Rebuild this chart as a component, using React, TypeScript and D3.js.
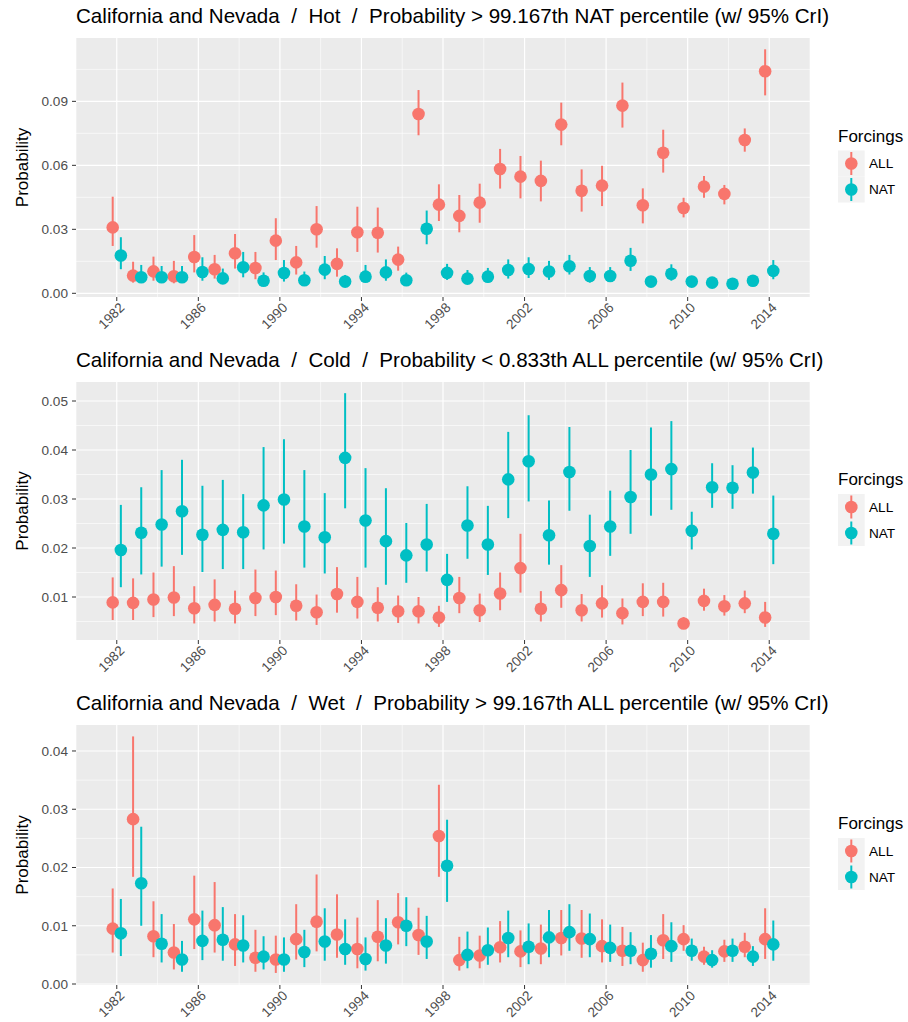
import React from 'react';
import * as d3 from 'd3';

// ---------- data ----------
const years = [1982, 1983, 1984, 1985, 1986, 1987, 1988, 1989, 1990, 1991, 1992, 1993, 1994, 1995, 1996, 1997, 1998, 1999, 2000, 2001, 2002, 2003, 2004, 2005, 2006, 2007, 2008, 2009, 2010, 2011, 2012, 2013, 2014];
const forcings = ['ALL', 'NAT'];
const xTickYears = [1982, 1986, 1990, 1994, 1998, 2002, 2006, 2010, 2014];
const xMinorYears = [1980, 1984, 1988, 1992, 1996, 2000, 2004, 2008, 2012, 2016];

// Hot
const hotAllMid = [0.0309, 0.0083, 0.0103, 0.0080, 0.0170, 0.0113, 0.0188, 0.0119, 0.0247, 0.0145, 0.0300, 0.0138, 0.0286, 0.0284, 0.0158, 0.0841, 0.0416, 0.0363, 0.0425, 0.0583, 0.0547, 0.0527, 0.0791, 0.0481, 0.0505, 0.0880, 0.0413, 0.0659, 0.0400, 0.0500, 0.0466, 0.0719, 0.1041];
const hotAllLo = [0.0222, 0.0050, 0.0059, 0.0047, 0.0098, 0.0069, 0.0116, 0.0066, 0.0156, 0.0088, 0.0214, 0.0078, 0.0194, 0.0191, 0.0106, 0.0741, 0.0339, 0.0286, 0.0331, 0.0491, 0.0445, 0.0431, 0.0694, 0.0383, 0.0409, 0.0777, 0.0328, 0.0566, 0.0356, 0.0448, 0.0417, 0.0664, 0.0928];
const hotAllHi = [0.0453, 0.0148, 0.0172, 0.0152, 0.0273, 0.0180, 0.0278, 0.0194, 0.0352, 0.0222, 0.0409, 0.0211, 0.0406, 0.0402, 0.0219, 0.0953, 0.0511, 0.0461, 0.0514, 0.0677, 0.0644, 0.0622, 0.0894, 0.0581, 0.0598, 0.0988, 0.0492, 0.0767, 0.0448, 0.0550, 0.0508, 0.0773, 0.1144];
const hotNatMid = [0.0177, 0.0075, 0.0075, 0.0075, 0.0100, 0.0070, 0.0122, 0.0059, 0.0095, 0.0061, 0.0111, 0.0055, 0.0078, 0.0098, 0.0061, 0.0303, 0.0096, 0.0069, 0.0078, 0.0109, 0.0114, 0.0102, 0.0127, 0.0081, 0.0081, 0.0153, 0.0055, 0.0092, 0.0055, 0.0050, 0.0045, 0.0059, 0.0105];
const hotNatLo = [0.0113, 0.0052, 0.0050, 0.0050, 0.0059, 0.0050, 0.0075, 0.0041, 0.0055, 0.0039, 0.0066, 0.0034, 0.0053, 0.0059, 0.0041, 0.0230, 0.0063, 0.0047, 0.0050, 0.0069, 0.0072, 0.0063, 0.0088, 0.0050, 0.0053, 0.0105, 0.0041, 0.0059, 0.0039, 0.0034, 0.0031, 0.0042, 0.0066];
const hotNatHi = [0.0263, 0.0133, 0.0128, 0.0128, 0.0169, 0.0116, 0.0194, 0.0098, 0.0156, 0.0102, 0.0175, 0.0086, 0.0133, 0.0159, 0.0097, 0.0388, 0.0138, 0.0109, 0.0119, 0.0159, 0.0169, 0.0152, 0.0180, 0.0123, 0.0123, 0.0213, 0.0075, 0.0136, 0.0070, 0.0066, 0.0059, 0.0075, 0.0156];

// Cold
const coldAllMid = [0.0089, 0.0088, 0.0095, 0.0099, 0.0077, 0.0084, 0.0076, 0.0098, 0.0100, 0.0082, 0.0069, 0.0106, 0.0090, 0.0078, 0.0071, 0.0071, 0.0058, 0.0098, 0.0073, 0.0107, 0.0159, 0.0076, 0.0114, 0.0073, 0.0087, 0.0067, 0.0090, 0.0090, 0.0046, 0.0092, 0.0081, 0.0087, 0.0058];
const coldAllLo = [0.0053, 0.0053, 0.0059, 0.0061, 0.0046, 0.0050, 0.0046, 0.0061, 0.0063, 0.0052, 0.0043, 0.0068, 0.0056, 0.0050, 0.0047, 0.0046, 0.0039, 0.0067, 0.0049, 0.0073, 0.0109, 0.0050, 0.0078, 0.0050, 0.0058, 0.0044, 0.0061, 0.0060, 0.0036, 0.0072, 0.0062, 0.0067, 0.0039];
const coldAllHi = [0.0140, 0.0138, 0.0150, 0.0163, 0.0122, 0.0136, 0.0113, 0.0156, 0.0154, 0.0126, 0.0105, 0.0161, 0.0141, 0.0120, 0.0103, 0.0100, 0.0082, 0.0141, 0.0107, 0.0150, 0.0229, 0.0112, 0.0165, 0.0106, 0.0124, 0.0097, 0.0128, 0.0129, 0.0059, 0.0117, 0.0104, 0.0113, 0.0090];
const coldNatMid = [0.0196, 0.0231, 0.0248, 0.0275, 0.0227, 0.0237, 0.0232, 0.0287, 0.0299, 0.0244, 0.0222, 0.0384, 0.0256, 0.0214, 0.0185, 0.0207, 0.0135, 0.0246, 0.0207, 0.0340, 0.0377, 0.0226, 0.0355, 0.0204, 0.0244, 0.0304, 0.0350, 0.0361, 0.0235, 0.0324, 0.0323, 0.0354, 0.0229];
const coldNatLo = [0.0120, 0.0146, 0.0162, 0.0186, 0.0151, 0.0157, 0.0157, 0.0197, 0.0209, 0.0160, 0.0148, 0.0281, 0.0160, 0.0125, 0.0129, 0.0152, 0.0090, 0.0178, 0.0145, 0.0261, 0.0295, 0.0166, 0.0276, 0.0141, 0.0184, 0.0229, 0.0266, 0.0278, 0.0197, 0.0282, 0.0280, 0.0311, 0.0167];
const coldNatHi = [0.0288, 0.0324, 0.0359, 0.0380, 0.0327, 0.0339, 0.0310, 0.0406, 0.0422, 0.0359, 0.0312, 0.0516, 0.0363, 0.0322, 0.0251, 0.0290, 0.0188, 0.0326, 0.0286, 0.0437, 0.0471, 0.0297, 0.0447, 0.0268, 0.0317, 0.0400, 0.0446, 0.0459, 0.0274, 0.0373, 0.0369, 0.0405, 0.0307];

// Wet
const wetAllMid = [0.0095, 0.0283, 0.0082, 0.0054, 0.0111, 0.0101, 0.0068, 0.0045, 0.0042, 0.0077, 0.0107, 0.0085, 0.0060, 0.0081, 0.0106, 0.0084, 0.0254, 0.0041, 0.0049, 0.0063, 0.0056, 0.0061, 0.0079, 0.0078, 0.0065, 0.0057, 0.0041, 0.0075, 0.0077, 0.0047, 0.0056, 0.0064, 0.0077];
const wetAllLo = [0.0054, 0.0184, 0.0046, 0.0025, 0.0060, 0.0054, 0.0031, 0.0021, 0.0019, 0.0042, 0.0056, 0.0045, 0.0027, 0.0039, 0.0068, 0.0050, 0.0184, 0.0023, 0.0027, 0.0037, 0.0029, 0.0034, 0.0049, 0.0045, 0.0037, 0.0031, 0.0021, 0.0043, 0.0057, 0.0033, 0.0038, 0.0046, 0.0043];
const wetAllHi = [0.0164, 0.0425, 0.0142, 0.0103, 0.0186, 0.0175, 0.0120, 0.0093, 0.0083, 0.0137, 0.0188, 0.0154, 0.0114, 0.0144, 0.0156, 0.0131, 0.0342, 0.0081, 0.0083, 0.0108, 0.0092, 0.0102, 0.0127, 0.0127, 0.0111, 0.0098, 0.0071, 0.0120, 0.0101, 0.0064, 0.0076, 0.0088, 0.0130];
const wetNatMid = [0.0087, 0.0173, 0.0069, 0.0042, 0.0074, 0.0076, 0.0066, 0.0047, 0.0042, 0.0055, 0.0073, 0.0060, 0.0043, 0.0066, 0.0100, 0.0073, 0.0203, 0.0050, 0.0058, 0.0079, 0.0064, 0.0080, 0.0089, 0.0077, 0.0062, 0.0057, 0.0052, 0.0065, 0.0057, 0.0041, 0.0057, 0.0047, 0.0068];
const wetNatLo = [0.0048, 0.0100, 0.0037, 0.0021, 0.0041, 0.0040, 0.0037, 0.0025, 0.0021, 0.0029, 0.0040, 0.0033, 0.0023, 0.0035, 0.0065, 0.0043, 0.0141, 0.0027, 0.0033, 0.0046, 0.0034, 0.0046, 0.0057, 0.0046, 0.0038, 0.0034, 0.0028, 0.0038, 0.0040, 0.0028, 0.0038, 0.0031, 0.0040];
const wetNatHi = [0.0146, 0.0270, 0.0120, 0.0074, 0.0126, 0.0132, 0.0118, 0.0082, 0.0080, 0.0093, 0.0130, 0.0111, 0.0080, 0.0113, 0.0149, 0.0117, 0.0282, 0.0090, 0.0097, 0.0126, 0.0104, 0.0127, 0.0137, 0.0121, 0.0102, 0.0089, 0.0084, 0.0106, 0.0078, 0.0058, 0.0078, 0.0065, 0.0109];

const titles = [
  'California and Nevada  /  Hot  /  Probability > 99.167th NAT percentile (w/ 95% CrI)',
  'California and Nevada  /  Cold  /  Probability < 0.833th ALL percentile (w/ 95% CrI)',
  'California and Nevada  /  Wet  /  Probability > 99.167th ALL percentile (w/ 95% CrI)',
];
const hotTicks = [0, 0.03, 0.06, 0.09];
const hotMinor = [0.015, 0.045, 0.075, 0.105];
const coldTicks = [0.01, 0.02, 0.03, 0.04, 0.05];
const coldMinor = [0.005, 0.015, 0.025, 0.035, 0.045];
const wetTicks = [0, 0.01, 0.02, 0.03, 0.04];
const wetMinor = [0.005, 0.015, 0.025, 0.035];

// ---------- layout / style ----------
const W = 908, H = 1022;
const X0 = 76, X1 = 810;
const COLORS: Record<string, string> = { ALL: '#F8766D', NAT: '#00BFC4' };
const FONT = '"Liberation Sans", Arial, Helvetica, sans-serif';
const DODGE = 0.2;

const panels = [
  { title: titles[0], top: 38, bottom: 297, yDomain: [-0.00173, 0.1197], ticks: hotTicks, minor: hotMinor,
    series: { ALL: [hotAllMid, hotAllLo, hotAllHi], NAT: [hotNatMid, hotNatLo, hotNatHi] } },
  { title: titles[1], top: 382, bottom: 640, yDomain: [0.001224, 0.05388], ticks: coldTicks, minor: coldMinor,
    series: { ALL: [coldAllMid, coldAllLo, coldAllHi], NAT: [coldNatMid, coldNatLo, coldNatHi] } },
  { title: titles[2], top: 725, bottom: 985, yDomain: [-0.00017, 0.04446], ticks: wetTicks, minor: wetMinor,
    series: { ALL: [wetAllMid, wetAllLo, wetAllHi], NAT: [wetNatMid, wetNatLo, wetNatHi] } },
];

const x = d3.scaleLinear().domain([1980, 2016]).range([X0, X1]);
const fmt = d3.format('.2f');

function Panel({ p }: { p: any }) {
  const y = d3.scaleLinear().domain(p.yDomain).range([p.bottom, p.top]);
  const mid = (p.top + p.bottom) / 2;
  const legX = 838;
  const keyH = 26;
  const keyTop = mid - 17;
  return (
    <g>
      <text x={X0} y={p.top - 14.7} fontSize={20.6} fill="#000" style={{ whiteSpace: 'pre' }}>{p.title}</text>
      <rect x={X0} y={p.top} width={X1 - X0} height={p.bottom - p.top} fill="#EBEBEB" />
      {p.minor.map((v: number) => (
        <line key={'ym' + v} x1={X0} x2={X1} y1={y(v)} y2={y(v)} stroke="#fff" strokeWidth={0.6} />
      ))}
      {xMinorYears.map((v) => (
        <line key={'xm' + v} x1={x(v)} x2={x(v)} y1={p.top} y2={p.bottom} stroke="#fff" strokeWidth={0.6} />
      ))}
      {p.ticks.map((v: number) => (
        <line key={'yM' + v} x1={X0} x2={X1} y1={y(v)} y2={y(v)} stroke="#fff" strokeWidth={1.2} />
      ))}
      {xTickYears.map((v) => (
        <line key={'xM' + v} x1={x(v)} x2={x(v)} y1={p.top} y2={p.bottom} stroke="#fff" strokeWidth={1.2} />
      ))}
      {forcings.map((f, fi) => {
        const [m, lo, hi] = p.series[f];
        const off = fi === 0 ? -DODGE : DODGE;
        return (
          <g key={f}>
            {years.map((yr, i) => (
              <g key={yr}>
                <line x1={x(yr + off)} x2={x(yr + off)} y1={y(lo[i])} y2={y(hi[i])} stroke={COLORS[f]} strokeWidth={2} />
                <circle cx={x(yr + off)} cy={y(m[i])} r={6.3} fill={COLORS[f]} />
              </g>
            ))}
          </g>
        );
      })}
      {/* y axis */}
      {p.ticks.map((v: number) => (
        <g key={'yt' + v}>
          <line x1={X0 - 4} x2={X0} y1={y(v)} y2={y(v)} stroke="#333" strokeWidth={1} />
          <text x={X0 - 8} y={y(v)} dy="0.35em" textAnchor="end" fontSize={13.6} fill="#4D4D4D">{fmt(v)}</text>
        </g>
      ))}
      <text transform={`translate(27.5,${mid}) rotate(-90)`} textAnchor="middle" fontSize={17} fill="#000">Probability</text>
      {/* x axis */}
      {xTickYears.map((v) => (
        <g key={'xt' + v}>
          <line x1={x(v)} x2={x(v)} y1={p.bottom} y2={p.bottom + 4} stroke="#333" strokeWidth={1} />
          <text transform={`translate(${x(v) + 8.5},${p.bottom + 11.5}) rotate(-45)`} textAnchor="end" fontSize={13.6} fill="#4D4D4D">{v}</text>
        </g>
      ))}
      {/* legend */}
      <text x={legX} y={mid - 26} fontSize={17} fill="#000">Forcings</text>
      {forcings.map((f, i) => {
        const ky = keyTop + i * keyH;
        const cx = legX + 13.3;
        return (
          <g key={'leg' + f}>
            <rect x={legX} y={ky} width={26.7} height={keyH} fill="#F2F2F2" />
            <line x1={cx} x2={cx} y1={ky + 1.5} y2={ky + keyH - 1.5} stroke={COLORS[f]} strokeWidth={2} />
            <circle cx={cx} cy={ky + keyH / 2} r={6.3} fill={COLORS[f]} />
            <text x={legX + 31} y={ky + keyH / 2} dy="0.35em" fontSize={13.6} fill="#000">{f}</text>
          </g>
        );
      })}
    </g>
  );
}

export default function App() {
  return (
    <svg width={W} height={H} viewBox={`0 0 ${W} ${H}`} fontFamily={FONT}
      style={{ position: 'absolute', left: 0, top: 0, display: 'block', background: '#fff' }}>
      <rect x={0} y={0} width={W} height={H} fill="#fff" />
      {panels.map((p, i) => <Panel key={i} p={p} />)}
    </svg>
  );
}
